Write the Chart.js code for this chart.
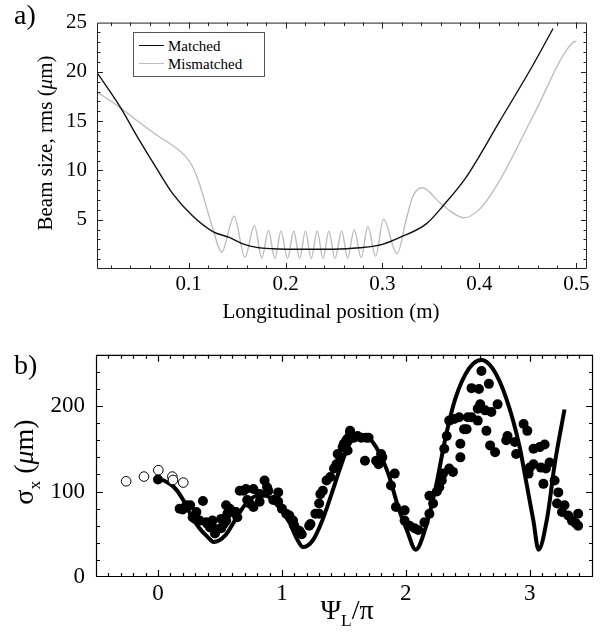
<!DOCTYPE html>
<html><head><meta charset="utf-8">
<script src="https://cdn.jsdelivr.net/npm/chart.js@4.4.1/dist/chart.umd.min.js"></script>
<style>
html,body{margin:0;padding:0;background:#fff;}
#wrap{position:relative;width:609px;height:642px;overflow:hidden;font-family:'Liberation Serif','Times New Roman',serif;color:#000;background:#fff;}
.box{position:absolute;left:0;width:609px;}
.box canvas{display:block;}
.t{position:absolute;white-space:nowrap;line-height:1;}
.rot{transform:translate(-50%,-50%) rotate(-90deg);}
.ctr{transform:translate(-50%,-50%);}
.vc{transform:translateY(-50%);}
sub{font-size:0.62em;line-height:0;vertical-align:-0.38em;}
#legend{position:absolute;left:133px;top:32px;width:132px;height:45px;box-sizing:border-box;border:1px solid #555;background:#fff;}
.ls{position:absolute;left:5px;width:25px;height:0;}
</style></head><body>
<div id="wrap">
  <div class="box" style="top:0;height:330px"><canvas id="chartA" width="609" height="330"></canvas></div>
  <div class="box" style="top:330px;height:312px"><canvas id="chartB" width="609" height="312"></canvas></div>
  <div class="t" style="left:14px;top:1px;font-size:28px">a)</div>
  <div class="t rot" style="left:45px;top:143px;font-size:21px">Beam size, rms (<i>μ</i>m)</div>
  <div class="t ctr" style="left:331px;top:311px;font-size:21px">Longitudinal position (m)</div>
  <div id="legend">
    <div class="ls" style="top:12px;border-top:1.5px solid #111"></div>
    <div class="t vc" style="left:34px;top:13px;font-size:15px">Matched</div>
    <div class="ls" style="top:30px;border-top:1.5px solid #bdbdbd"></div>
    <div class="t vc" style="left:34px;top:31px;font-size:15px">Mismatched</div>
  </div>
  <div class="t" style="left:14px;top:351px;font-size:28px">b)</div>
  <div class="t rot" style="left:24px;top:462px;font-size:28px">σ<sub>x</sub> (<i>μ</i>m)</div>
  <div class="t ctr" style="left:347px;top:610px;font-size:28px">Ψ<sub>L</sub>/π</div>
</div>
<script>
// ---------- Panel a data ----------
const matchedX = [0.005,0.029,0.049,0.067,0.084,0.104,0.125,0.142,0.156,0.170,0.187,0.215,0.250,0.2765,0.300,0.318,0.3455,0.3624,0.3866,0.421,0.4553,0.476];
const matchedY = [20.0,16.5,13.1,10.2,7.6,5.4,3.8,3.2,2.55,2.2,2.06,2.0,2.0,2.15,2.5,3.2,4.6,6.4,9.35,15.0,20.7,24.4];
const mismatchedX = [0.005,0.029,0.049,0.067,0.084,0.097,0.104,0.111,0.118,0.125,0.134,0.147,0.158,0.168,0.1755,0.1824,0.189,0.1953,0.202,0.2085,0.2145,0.2206,0.2265,0.2327,0.2387,0.2447,0.251,0.258,0.264,0.2709,0.278,0.2849,0.293,0.301,0.315,0.3247,0.3315,0.341,0.359,0.371,0.384,0.4005,0.421,0.4553,0.4967,0.500];
const mismatchedY = [18.0,16.4,14.9,13.6,12.5,11.4,10.4,8.7,6.4,4.1,1.7,5.35,1.2,4.4,1.1,3.9,1.05,3.85,1.05,3.85,1.05,3.85,1.05,3.85,1.05,3.85,1.05,3.85,1.1,4.0,1.15,4.3,1.3,5.05,1.55,5.1,7.4,8.25,6.75,5.8,5.2,6.1,9.0,15.5,23.0,23.1];
const aXTicks = [0.1,0.2,0.3,0.4,0.5];
const aXLabels = ['0.1','0.2','0.3','0.4','0.5'];
const aYTicks = [5,10,15,20,25];
const aYLabels = ['5','10','15','20','25'];

// ---------- Panel b data ----------
const theoryX = [0.035,0.13,0.20,0.26,0.33,0.40,0.45,0.545,0.62,0.70,0.80,0.87,0.95,1.06,1.12,1.17,1.25,1.32,1.40,1.48,1.55,1.64,1.70,1.78,1.86,1.94,2.01,2.08,2.16,2.24,2.32,2.40,2.51,2.61,2.70,2.81,2.92,2.96,3.03,3.07,3.14,3.20,3.28];
const theoryY = [114,105,91,74,58,47,41,49,66,84,95,95,86,64,45,35,43,64,97,132,157,166,163,147,120,81,54,32,58,104,163,209,244,254,244,209,151,120,65,32,69,131,196];
const measX = [0.00,0.175,0.20,0.229,0.26,0.28,0.30,0.31,0.336,0.363,0.39,0.40,0.42,0.44,0.44,0.46,0.47,0.48,0.51,0.51,0.53,0.55,0.55,0.56,0.578,0.60,0.63,0.64,0.66,0.69,0.71,0.72,0.74,0.77,0.77,0.82,0.82,0.86,0.88,0.89,0.93,0.97,0.97,1.00,1.035,1.06,1.09,1.10,1.12,1.14,1.15,1.16,
  1.22,1.23,1.27,1.30,1.30,1.31,1.33,1.36,1.39,1.42,1.44,1.45,1.47,1.49,1.50,1.52,1.53,1.53,1.55,1.55,1.58,1.61,1.64,1.67,1.68,1.70,1.76,1.78,1.80,1.81,1.88,1.91,1.92,1.99,1.99,2.03,2.07,2.10,2.15,2.19,2.19,2.22,2.25,2.27,2.29,2.30,2.31,2.33,2.35,2.35,2.38,2.39,2.43,2.44,2.44,2.47,2.49,2.50,2.53,2.53,2.58,2.58,2.59,2.60,2.61,2.64,2.65,2.67,2.68,2.69,2.72,2.74,2.81,2.82,2.88,2.89,2.95,2.98,2.99,3.00,3.03,3.03,3.08,3.09,3.11,3.12,3.13,3.16,3.20,3.22,3.23,3.26,3.28,3.31,3.34,3.37,3.39,3.39];
const measY = [114,80,79,84,84,70,68,76,66,89,64,62,58,58,66,51,55,56,57,68,62,66,84,74,80,76,76,70,101,101,103,90,86,103,82,97,88,113,105,101,90,99,88,80,74,72,66,60,55,54,52,50,
  60,62,74,86,74,97,101,113,117,127,132,144,140,152,156,160,148,162,171,169,163,165,163,136,163,163,136,132,144,140,107,121,82,78,66,60,57,55,64,74,95,86,100,105,113,121,150,165,127,183,123,185,187,156,140,173,173,187,187,221,183,197,220,202,241,195,171,226,154,193,146,202,160,165,158,144,179,171,121,128,150,132,152,128,109,155,127,134,113,86,99,76,84,72,66,63,74,60];
const openX = [-0.257,-0.113,0.003,0.116,0.121,0.204];
const openY = [112,117.5,125,117.5,113.5,110.5];
const bXTicks = [0,1,2,3];
const bXLabels = ['0','1','2','3'];
const bYTicks = [0,100,200];
const bYLabels = ['0','100','200'];

const pts = (xs, ys) => xs.map((x, i) => ({x: x, y: ys[i]}));
const range = (a, b, s) => { const r = []; for (let v = a; v <= b + 1e-9; v += s) r.push(+v.toFixed(4)); return r; };

const SERIF = "'Liberation Serif','Times New Roman',serif";

// Mathematica-style frame with inward major/minor ticks on all four sides
const framePlugin = {
  id: 'frame',
  afterDraw(chart, args, o) {
    const {ctx, chartArea: a, scales} = chart;
    ctx.save();
    ctx.strokeStyle = o.color || '#222';
    ctx.lineWidth = o.width || 1;
    ctx.beginPath();
    ctx.rect(a.left + 0.5, a.top + 0.5, a.right - a.left - 1, a.bottom - a.top - 1);
    ctx.stroke();
    ctx.beginPath();
    const tx = (vals, len) => vals.forEach(v => {
      const p = Math.round(scales.x.getPixelForValue(v)) + 0.5;
      if (p < a.left + 1 || p > a.right - 1) return;
      ctx.moveTo(p, a.bottom); ctx.lineTo(p, a.bottom - len);
      ctx.moveTo(p, a.top); ctx.lineTo(p, a.top + len);
    });
    const ty = (vals, len) => vals.forEach(v => {
      const p = Math.round(scales.y.getPixelForValue(v)) + 0.5;
      if (p < a.top + 1 || p > a.bottom - 1) return;
      ctx.moveTo(a.left, p); ctx.lineTo(a.left + len, p);
      ctx.moveTo(a.right, p); ctx.lineTo(a.right - len, p);
    });
    tx(o.xMajor, o.majorLen); tx(o.xMinor, o.minorLen);
    ty(o.yMajor, o.majorLen); ty(o.yMinor, o.minorLen);
    ctx.stroke();
    ctx.restore();
  }
};

function axis(min, max, ticks, labels, size, pad, fit, horizontal) {
  return {
    type: 'linear', min: min, max: max,
    grid: {display: false, drawTicks: false, tickLength: 0},
    border: {display: false},
    afterBuildTicks: s => { s.ticks = ticks.map(v => ({value: v})); },
    afterFit: s => { if (horizontal) s.height = fit; else s.width = fit; },
    ticks: {padding: pad, color: '#000', font: {family: SERIF, size: size}, maxRotation: 0, autoSkip: false,
            callback: (v, i) => labels[i]}
  };
}

new Chart(document.getElementById('chartA'), {
  type: 'line',
  data: {datasets: [
    {label: 'Matched', data: pts(matchedX, matchedY), borderColor: '#111', borderWidth: 1.4, pointRadius: 0, cubicInterpolationMode: 'monotone'},
    {label: 'Mismatched', data: pts(mismatchedX, mismatchedY), borderColor: '#bdbdbd', borderWidth: 1.4, pointRadius: 0, cubicInterpolationMode: 'monotone'}
  ]},
  options: {
    responsive: false, animation: false, devicePixelRatio: 1,
    layout: {padding: {left: 0, top: 13, right: 22, bottom: 0}},
    plugins: {legend: {display: false}, tooltip: {enabled: false},
      frame: {xMajor: aXTicks, xMinor: range(0.02, 0.5, 0.02), yMajor: aYTicks, yMinor: range(1, 25, 1), majorLen: 6, minorLen: 3.5, color: '#222', width: 1}},
    scales: {
      x: axis(0.0055, 0.511, aXTicks, aXLabels, 21, 3, 61, true),
      y: axis(0, 25, aYTicks, aYLabels, 21, 10, 97, false)
    }
  },
  plugins: [framePlugin]
});

new Chart(document.getElementById('chartB'), {
  type: 'line',
  data: {datasets: [
    {label: 'open', data: pts(openX, openY), showLine: false, pointRadius: 4.8, pointBackgroundColor: '#fff', pointBorderColor: '#000', pointBorderWidth: 1},
    {label: 'measured', data: pts(measX, measY), showLine: false, pointRadius: 5, pointBackgroundColor: '#000', pointBorderColor: '#000', pointBorderWidth: 0},
    {label: 'theory', data: pts(theoryX, theoryY), borderColor: '#000', borderWidth: 4, pointRadius: 0, cubicInterpolationMode: 'monotone'}
  ]},
  options: {
    responsive: false, animation: false, devicePixelRatio: 1,
    layout: {padding: {left: 0, top: 24, right: 16, bottom: 0}},
    plugins: {legend: {display: false}, tooltip: {enabled: false},
      frame: {xMajor: bXTicks, xMinor: range(-0.5, 3.5, 0.1), yMajor: bYTicks, yMinor: range(0, 260, 20), majorLen: 7, minorLen: 4, color: '#000', width: 1.2}},
    scales: {
      x: axis(-0.5, 3.51, bXTicks, bXLabels, 23, 3, 65, true),
      y: axis(0, 260, bYTicks, bYLabels, 23, 11, 96, false)
    }
  },
  plugins: [framePlugin]
});
</script>
</body></html>
